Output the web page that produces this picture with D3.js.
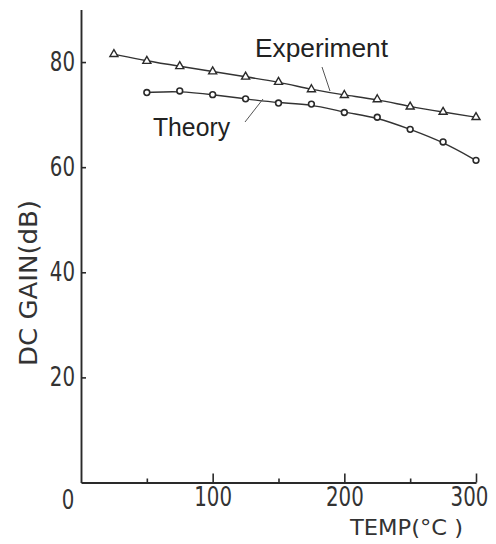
<!DOCTYPE html>
<html>
<head>
<meta charset="utf-8">
<script src="https://cdn.jsdelivr.net/npm/d3@7"></script>
<style>
  html, body { margin: 0; padding: 0; background: #fff; }
  svg { display: block; }
  .narrow { font-family: "Liberation Sans Narrow", "DejaVu Sans Condensed", "Liberation Sans", sans-serif; fill: #333; }
  .label { font-family: "Liberation Sans", Arial, sans-serif; fill: #222; }
</style>
</head>
<body>
<script>
// DC gain versus temperature
const temps = [25, 50, 75, 100, 125, 150, 175, 200, 225, 250, 275, 300];
const experimentGain = [81.5, 80.2, 79.2, 78.2, 77.2, 76.2, 74.8, 73.7, 72.9, 71.5, 70.5, 69.5];
const theoryTemps = [50, 75, 100, 125, 150, 175, 200, 225, 250, 275, 300];
const theoryGain = [74.2, 74.5, 73.8, 73.0, 72.2, 72.0, 70.4, 69.5, 67.2, 64.8, 61.3];
const xMajorTicks = [100, 200, 300];
const xMinorTicks = [50, 150, 250];
const yTicks = [20, 40, 60, 80];

const W = 496, H = 544;
const ink = "#2a2a2a";

const svg = d3.select("body").append("svg").attr("width", W).attr("height", H);

const x = d3.scaleLinear().domain([0, 300]).range([81, 476]);
const y = d3.scaleLinear().domain([0, 90]).range([482.5, 9.5]);

// fixed widths give the tall, narrow digits
const digitW = 12.6;

// x axis: major ticks with labels, minor ticks without
const gx = svg.append("g").attr("transform", `translate(0,${y(0)})`);
gx.call(d3.axisBottom(x).tickValues(xMajorTicks).tickSizeInner(-9).tickSizeOuter(0).tickPadding(5).tickFormat(d3.format("d")));
const gxm = svg.append("g").attr("transform", `translate(0,${y(0)})`);
gxm.call(d3.axisBottom(x).tickValues(xMinorTicks).tickSizeInner(-4).tickSizeOuter(0).tickFormat(""));
gxm.select(".domain").remove();

// y axis with inward ticks
const gy = svg.append("g").attr("transform", `translate(${x(0)},0)`);
gy.call(d3.axisLeft(y).tickValues(yTicks).tickSizeInner(-5).tickSizeOuter(0).tickPadding(6).tickFormat(d3.format("d")));

[gx, gxm, gy].forEach(g => {
  g.attr("font-family", null);
  g.select(".domain").attr("stroke", ink).attr("stroke-width", 1.9);
  g.selectAll(".tick line").attr("stroke", ink).attr("stroke-width", 1.6);
  g.selectAll(".tick text")
    .attr("class", "narrow")
    .attr("font-size", 26)
    .attr("fill", "#333")
    .attr("textLength", d => String(d).length * digitW)
    .attr("lengthAdjust", "spacingAndGlyphs");
});
// last label sits a little inside the axis end
gx.selectAll(".tick text").filter(d => d === 300).attr("dx", -7);

// shared origin label
svg.append("text").attr("class", "narrow")
  .attr("x", x(0) - 13).attr("y", 509)
  .attr("text-anchor", "middle").attr("font-size", 26)
  .attr("textLength", digitW).attr("lengthAdjust", "spacingAndGlyphs")
  .text("0");

// axis titles
svg.append("text").attr("class", "narrow")
  .attr("x", 350).attr("y", 535)
  .attr("font-size", 22)
  .attr("textLength", 113).attr("lengthAdjust", "spacingAndGlyphs")
  .text("TEMP(°C )");

svg.append("text").attr("class", "narrow")
  .attr("transform", `translate(37,366) rotate(-90)`)
  .attr("font-size", 25)
  .attr("textLength", 166).attr("lengthAdjust", "spacingAndGlyphs")
  .text("DC GAIN(dB)");

// curves
const line = d3.line().curve(d3.curveBasis);
const expPts = temps.map((t, i) => [x(t), y(experimentGain[i])]);
const thPts = theoryTemps.map((t, i) => [x(t), y(theoryGain[i])]);

svg.append("path").attr("d", line(expPts))
  .attr("fill", "none").attr("stroke", "#333").attr("stroke-width", 1.4);
svg.append("path").attr("d", line(thPts))
  .attr("fill", "none").attr("stroke", "#333").attr("stroke-width", 1.4);

// markers
const tri = d3.symbol().type(d3.symbolTriangle).size(28);
svg.append("g").selectAll("path").data(temps).join("path")
  .attr("d", tri)
  .attr("transform", (t, i) => `translate(${x(t)},${y(experimentGain[i])})`)
  .attr("fill", "#fff").attr("stroke", ink).attr("stroke-width", 1.4);

svg.append("g").selectAll("circle").data(theoryTemps).join("circle")
  .attr("cx", t => x(t))
  .attr("cy", (t, i) => y(theoryGain[i]))
  .attr("r", 2.9)
  .attr("fill", "#fff").attr("stroke", ink).attr("stroke-width", 1.6);

// series labels with leader lines
svg.append("text").attr("class", "label")
  .attr("x", 255).attr("y", 57).attr("font-size", 26)
  .attr("textLength", 133).attr("lengthAdjust", "spacingAndGlyphs")
  .text("Experiment");
svg.append("line").attr("x1", 322).attr("y1", 67).attr("x2", 330).attr("y2", 91)
  .attr("stroke", "#555").attr("stroke-width", 1);

svg.append("text").attr("class", "label")
  .attr("x", 153).attr("y", 136).attr("font-size", 25)
  .attr("textLength", 77).attr("lengthAdjust", "spacingAndGlyphs")
  .text("Theory");
svg.append("line").attr("x1", 245).attr("y1", 122).attr("x2", 263).attr("y2", 99)
  .attr("stroke", "#555").attr("stroke-width", 1);
</script>
</body>
</html>
